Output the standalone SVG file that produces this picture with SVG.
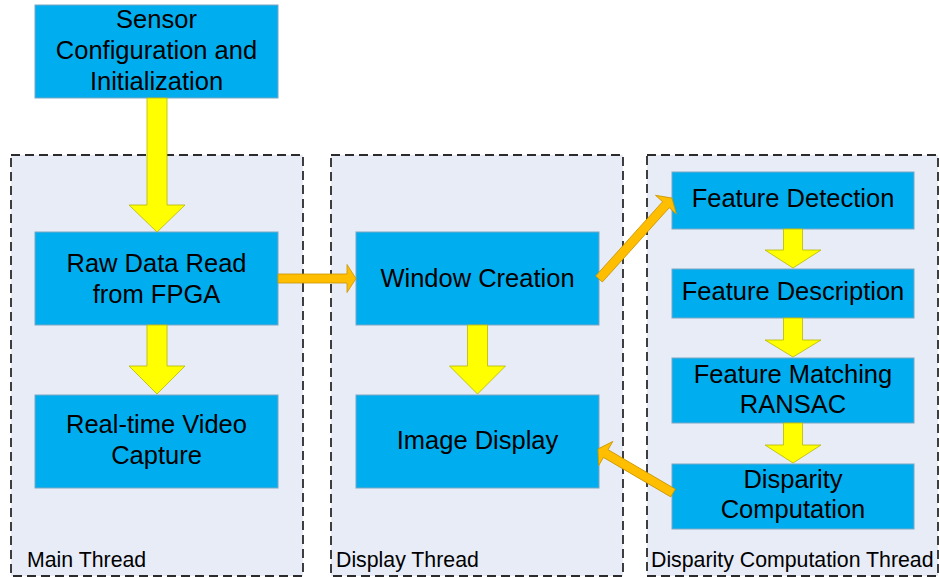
<svg xmlns="http://www.w3.org/2000/svg" width="940" height="578" viewBox="0 0 940 578">
<style>
.cont{fill:#E7ECF6;stroke:#2b2b2b;stroke-width:1.8;stroke-dasharray:9 5}
.box{fill:#00AEEF;stroke:#7AA6C4;stroke-width:1}
.t{font-family:"Liberation Sans",Arial,sans-serif;font-size:25.5px;fill:#000;text-anchor:middle}
.lbl{font-family:"Liberation Sans",Arial,sans-serif;font-size:21.3px;fill:#000}
.ya{fill:#FFFF00;stroke:#B8B800;stroke-width:0.8}
.oa{fill:#FFBF00;stroke:#C99400;stroke-width:0.8}
</style>
<rect width="940" height="578" fill="#fff"/>
<g id="main-thread">
<rect class="cont" x="11" y="155" width="292" height="421"/>
<text class="lbl" x="27" y="567">Main Thread</text>
</g>
<g id="display-thread">
<rect class="cont" x="331" y="155" width="292" height="421"/>
<text class="lbl" x="336" y="567">Display Thread</text>
</g>
<g id="disparity-thread">
<rect class="cont" x="647" y="155" width="291" height="421"/>
<text class="lbl" x="651" y="567">Disparity Computation Thread</text>
</g>
<g id="sensor">
<rect class="box" x="35" y="5" width="243" height="93"/>
<text class="t" x="156.5" y="28">Sensor</text>
<text class="t" x="156.5" y="59">Configuration and</text>
<text class="t" x="156.5" y="90">Initialization</text>
</g>
<g id="raw-data">
<rect class="box" x="35" y="232" width="243" height="93"/>
<text class="t" x="156.5" y="272">Raw Data Read</text>
<text class="t" x="156.5" y="303">from FPGA</text>
</g>
<g id="video-capture">
<rect class="box" x="35" y="395" width="243" height="93"/>
<text class="t" x="156.5" y="433">Real-time Video</text>
<text class="t" x="156.5" y="464">Capture</text>
</g>
<g id="window-creation">
<rect class="box" x="356" y="232" width="243" height="93"/>
<text class="t" x="477.5" y="287">Window Creation</text>
</g>
<g id="image-display">
<rect class="box" x="356" y="395" width="243" height="93"/>
<text class="t" x="477.5" y="449">Image Display</text>
</g>
<g id="feature-detection">
<rect class="box" x="672" y="172" width="242" height="57"/>
<text class="t" x="793" y="207">Feature Detection</text>
</g>
<g id="feature-description">
<rect class="box" x="672" y="269" width="242" height="49"/>
<text class="t" x="793" y="300">Feature Description</text>
</g>
<g id="feature-matching">
<rect class="box" x="672" y="358" width="242" height="65"/>
<text class="t" x="793" y="383">Feature Matching</text>
<text class="t" x="793" y="413">RANSAC</text>
</g>
<g id="disparity-computation">
<rect class="box" x="672" y="464" width="242" height="65"/>
<text class="t" x="793" y="488">Disparity</text>
<text class="t" x="793" y="518">Computation</text>
</g>
<g id="connectors">
<path class="ya" d="M147,98 H167 V205 H185 L157,232 L129,205 H147 Z"/>
<path class="ya" d="M147,325 H167 V366 H185 L157,394 L129,366 H147 Z"/>
<path class="ya" d="M467.5,325 H487.5 V366 H505.5 L477.5,394 L449.5,366 H467.5 Z"/>
<path class="ya" d="M783.5,229 H802.5 V250 H821 L793,268 L765,250 H783.5 Z"/>
<path class="ya" d="M783.5,318 H802.5 V340 H821 L793,357 L765,340 H783.5 Z"/>
<path class="ya" d="M783.5,423 H802.5 V445 H821 L793,463 L765,445 H783.5 Z"/>
<path class="oa" d="M278,274 H347 V264.5 L356,278.5 L347,292.5 V283 H278 Z"/>
<path class="oa" transform="translate(599,279) rotate(-48)" d="M0,-4.5 H100 V-14 L109,0 L100,14 V4.5 H0 Z"/>
<path class="oa" transform="translate(673,493) rotate(-149.6)" d="M0,-4.5 H78 V-14 L87,0 L78,14 V4.5 H0 Z"/>
</g>
</svg>
